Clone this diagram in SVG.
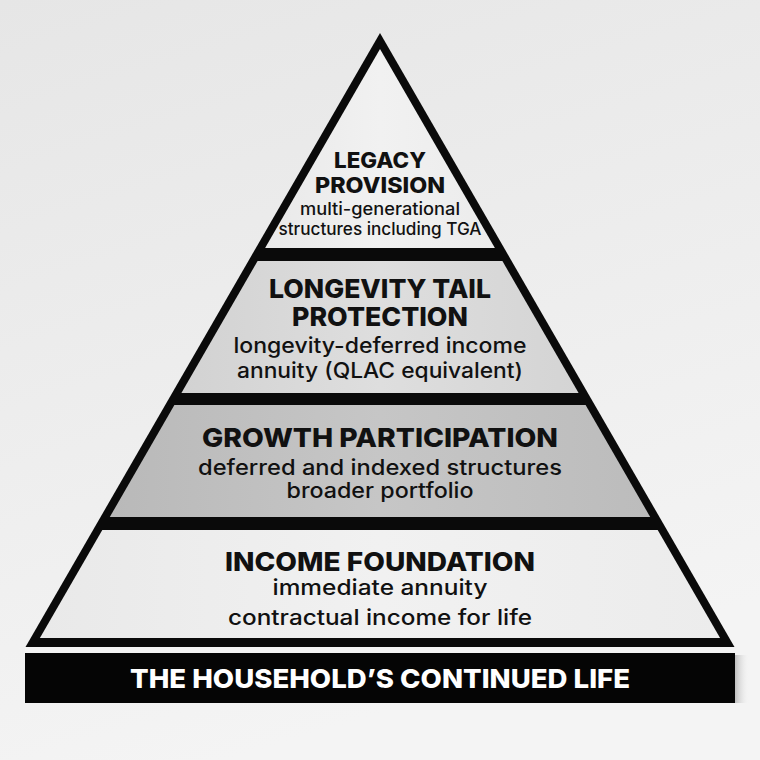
<svg xmlns="http://www.w3.org/2000/svg" width="760" height="760" viewBox="0 0 760 760">
  <defs>
    <linearGradient id="bg" x1="0" y1="0" x2="0.3" y2="1">
      <stop offset="0" stop-color="#e6e6e6"/>
      <stop offset="1" stop-color="#f4f4f4"/>
    </linearGradient>
    <linearGradient id="gLight" x1="0" y1="0" x2="1" y2="0">
      <stop offset="0" stop-color="#e9e9e9"/>
      <stop offset="0.5" stop-color="#f1f1f1"/>
      <stop offset="1" stop-color="#ececec"/>
    </linearGradient>
    <linearGradient id="gMid" x1="0" y1="0" x2="1" y2="0">
      <stop offset="0" stop-color="#d2d2d2"/>
      <stop offset="0.5" stop-color="#dedede"/>
      <stop offset="1" stop-color="#d4d4d4"/>
    </linearGradient>
    <linearGradient id="gDark" x1="0" y1="0" x2="1" y2="0">
      <stop offset="0" stop-color="#b9b9b9"/>
      <stop offset="0.5" stop-color="#c6c6c6"/>
      <stop offset="1" stop-color="#bcbcbc"/>
    </linearGradient>
    <linearGradient id="shadow" x1="0" y1="0" x2="1" y2="0">
      <stop offset="0" stop-color="#9a9a9a"/>
      <stop offset="1" stop-color="#f0f0f0" stop-opacity="0"/>
    </linearGradient>
  </defs>
  <style>
    .h { font-family: Inter, "Noto Sans", "Liberation Sans", sans-serif; font-weight: 800; fill: #111; text-anchor: middle; }
    .s { font-family: Inter, "Noto Sans", "Liberation Sans", sans-serif; font-weight: 500; fill: #111; text-anchor: middle; }
    .b { font-family: Inter, "Noto Sans", "Liberation Sans", sans-serif; font-weight: 800; fill: #fff; text-anchor: middle; }
  </style>
  <rect x="0" y="0" width="760" height="760" fill="url(#bg)"/>

  <g id="pyramid-frame">
    <polygon points="380,33 25.5,647 734.5,647" fill="#0a0a0a"/>
  </g>

  <g id="tier-legacy">
    <polygon points="380,49 265.1,248 494.9,248" fill="url(#gLight)"/>
    <text class="h" x="380" y="168" font-size="21.5" textLength="92" lengthAdjust="spacingAndGlyphs">LEGACY</text>
    <text class="h" x="380" y="193" font-size="21.5" textLength="130" lengthAdjust="spacingAndGlyphs">PROVISION</text>
    <text class="s" x="380" y="215" font-size="17" textLength="160" lengthAdjust="spacingAndGlyphs">multi-generational</text>
    <text class="s" x="380" y="235" font-size="17" textLength="203" lengthAdjust="spacingAndGlyphs">structures including TGA</text>
  </g>

  <g id="tier-longevity">
    <polygon points="257.6,261 502.4,261 578.6,393 181.4,393" fill="url(#gMid)"/>
    <text class="h" x="380" y="298" font-size="26" textLength="222" lengthAdjust="spacingAndGlyphs">LONGEVITY TAIL</text>
    <text class="h" x="380" y="326" font-size="26" textLength="176" lengthAdjust="spacingAndGlyphs">PROTECTION</text>
    <text class="s" x="380" y="353" font-size="21" textLength="293" lengthAdjust="spacingAndGlyphs">longevity-deferred income</text>
    <text class="s" x="380" y="378" font-size="21" textLength="286" lengthAdjust="spacingAndGlyphs">annuity (QLAC equivalent)</text>
  </g>

  <g id="tier-growth">
    <polygon points="174.4,405 585.6,405 650.2,517 109.8,517" fill="url(#gDark)"/>
    <text class="h" x="380" y="447" font-size="26" textLength="356" lengthAdjust="spacingAndGlyphs">GROWTH PARTICIPATION</text>
    <text class="s" x="380" y="475" font-size="21" textLength="364" lengthAdjust="spacingAndGlyphs">deferred and indexed structures</text>
    <text class="s" x="380" y="498" font-size="21" textLength="187" lengthAdjust="spacingAndGlyphs">broader portfolio</text>
  </g>

  <g id="tier-income">
    <polygon points="102.3,530 657.7,530 720.1,638 39.9,638" fill="url(#gLight)"/>
    <text class="h" x="380" y="571" font-size="26" textLength="310" lengthAdjust="spacingAndGlyphs">INCOME FOUNDATION</text>
    <text class="s" x="380" y="595" font-size="21" textLength="215" lengthAdjust="spacingAndGlyphs">immediate annuity</text>
    <text class="s" x="380" y="625" font-size="21" textLength="304" lengthAdjust="spacingAndGlyphs">contractual income for life</text>
  </g>

  <g id="base-bar">
    <rect x="735" y="655" width="14" height="48" fill="url(#shadow)" opacity="0.6"/>
    <rect x="25" y="647" width="710" height="6" fill="#f4f4f4"/>
    <rect x="25" y="653" width="710" height="50" fill="#050505"/>
    <text class="b" x="380" y="688" font-size="26" textLength="500" lengthAdjust="spacingAndGlyphs">THE HOUSEHOLD’S CONTINUED LIFE</text>
  </g>
</svg>
